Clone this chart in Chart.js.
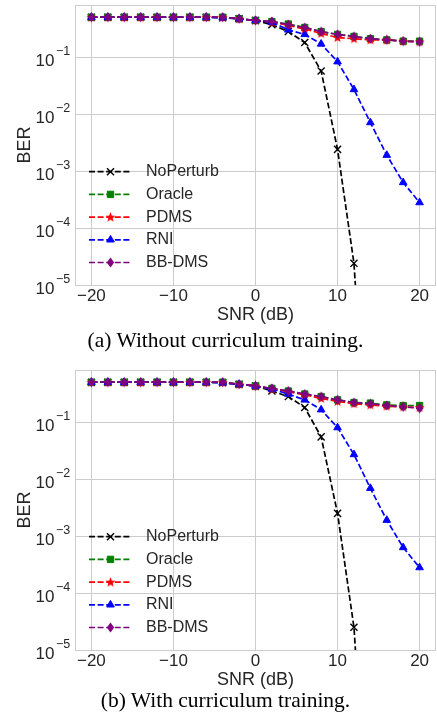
<!DOCTYPE html>
<html>
<head>
<meta charset="utf-8">
<script src="https://cdn.jsdelivr.net/npm/chart.js@4.4.0/dist/chart.umd.min.js"></script>
<style>
    body { margin: 0; background: #fff; width: 437px; height: 714px; overflow: hidden; position: relative; }
    canvas { position: absolute; left: 0; }
    .caption {
        position: absolute; left: 225.5px; transform: translateX(-50%); white-space: nowrap;
        font-family: "Liberation Serif", "Times New Roman", serif; font-size: 21.5px; line-height: 1; color: #000;
    }
</style>
</head>
<body>
<canvas id="chart-a" width="437" height="330" style="top:0px"></canvas>
<div class="caption" style="top:330px">(a) Without curriculum training.</div>
<canvas id="chart-b" width="437" height="330" style="top:365px"></canvas>
<div class="caption" style="top:689.5px">(b) With curriculum training.</div>
<script>
const snr = [-20, -18, -16, -14, -12, -10, -8, -6, -4, -2, 0, 2, 4, 6, 8, 10, 12, 14, 16, 18, 20];
const names = ['NoPerturb', 'Oracle', 'PDMS', 'RNI', 'BB-DMS'];
const xTicks = [-20, -10, 0, 10, 20];
const yTicks = [1e-5, 1e-4, 1e-3, 1e-2, 1e-1];

// (a) without curriculum training. NoPerturb reaches zero BER above 12 dB: 1e-9 puts it off the axis
const noPerturbA = [0.5, 0.5, 0.5, 0.5, 0.5, 0.5, 0.5, 0.5, 0.49, 0.47, 0.44, 0.37, 0.28, 0.18, 0.057, 0.0024, 0.000024, 1e-9, 1e-9, 1e-9, 1e-9];
const oracleA = [0.5, 0.5, 0.5, 0.5, 0.5, 0.5, 0.5, 0.5, 0.5, 0.47, 0.44, 0.42, 0.38, 0.33, 0.28, 0.25, 0.23, 0.21, 0.2, 0.19, 0.19];
const pdmsA = [0.5, 0.5, 0.5, 0.5, 0.5, 0.5, 0.5, 0.5, 0.5, 0.47, 0.44, 0.41, 0.36, 0.31, 0.26, 0.22, 0.21, 0.2, 0.2, 0.19, 0.185];
const rniA = [0.5, 0.5, 0.5, 0.5, 0.5, 0.5, 0.5, 0.5, 0.49, 0.47, 0.44, 0.41, 0.3, 0.25, 0.17, 0.083, 0.027, 0.0071, 0.0019, 0.00063, 0.00028];
const bbdmsA = [0.5, 0.5, 0.5, 0.5, 0.5, 0.5, 0.5, 0.5, 0.5, 0.47, 0.44, 0.42, 0.37, 0.33, 0.28, 0.25, 0.23, 0.21, 0.2, 0.19, 0.185];

// (b) with curriculum training
const noPerturbB = [0.5, 0.5, 0.5, 0.5, 0.5, 0.5, 0.5, 0.5, 0.49, 0.46, 0.43, 0.35, 0.28, 0.18, 0.055, 0.0025, 0.000025, 1e-9, 1e-9, 1e-9, 1e-9];
const oracleB = [0.5, 0.5, 0.5, 0.5, 0.5, 0.5, 0.5, 0.5, 0.5, 0.46, 0.43, 0.39, 0.35, 0.31, 0.28, 0.245, 0.22, 0.215, 0.2, 0.195, 0.195];
const pdmsB = [0.5, 0.5, 0.5, 0.5, 0.5, 0.5, 0.5, 0.5, 0.5, 0.46, 0.43, 0.38, 0.34, 0.3, 0.26, 0.23, 0.21, 0.2, 0.19, 0.185, 0.18];
const rniB = [0.5, 0.5, 0.5, 0.5, 0.5, 0.5, 0.5, 0.5, 0.49, 0.46, 0.43, 0.38, 0.31, 0.245, 0.165, 0.08, 0.027, 0.0069, 0.0019, 0.00063, 0.00028];
const bbdmsB = [0.5, 0.5, 0.5, 0.5, 0.5, 0.5, 0.5, 0.5, 0.5, 0.46, 0.43, 0.39, 0.35, 0.31, 0.28, 0.245, 0.22, 0.21, 0.195, 0.185, 0.175];

const colors = ['#000000', '#008000', '#ff0000', '#0000ff', '#800080'];
const textColor = '#262626';
const gridColor = '#cccccc';
const sans = '"Liberation Sans", Arial, sans-serif';
const dash = [6, 2.6];

// matplotlib-like filled markers that chart.js doesn't have
function starMarker(color) {
    const c = document.createElement('canvas');
    c.width = 11; c.height = 11;
    const g = c.getContext('2d');
    g.fillStyle = color;
    g.beginPath();
    for (let k = 0; k < 10; k++) {
        const r = k % 2 === 0 ? 5.2 : 2.3;
        const a = -Math.PI / 2 + k * Math.PI / 5;
        g.lineTo(5.5 + r * Math.cos(a), 5.8 + r * Math.sin(a));
    }
    g.closePath();
    g.fill();
    return c;
}

function thinDiamond(color) {
    const c = document.createElement('canvas');
    c.width = 9; c.height = 11;
    const g = c.getContext('2d');
    g.fillStyle = color;
    g.beginPath();
    g.moveTo(4.5, 0.6);
    g.lineTo(8.2, 5.5);
    g.lineTo(4.5, 10.4);
    g.lineTo(0.8, 5.5);
    g.closePath();
    g.fill();
    return c;
}

const pointStyles = ['crossRot', 'rect', starMarker(colors[2]), 'triangle', thinDiamond(colors[4])];
const pointSizes = [5, 4.5, 4.5, 4.4, 4.5];
const pointEdges = [1.4, 1, 1, 1, 1];

const framePlugin = {
    id: 'frame',
    beforeDatasetsDraw(chart) {
        const { ctx, chartArea: a } = chart;
        ctx.save();
        ctx.strokeStyle = gridColor;
        ctx.lineWidth = 1;
        ctx.strokeRect(Math.round(a.left) + 0.5, Math.round(a.top) + 0.5,
            Math.round(a.right - a.left) - 1, Math.round(a.bottom - a.top));
        ctx.restore();
    }
};

// y tick labels as 10 with a raised exponent
const powerLabels = {
    id: 'powerLabels',
    afterDraw(chart) {
        const { ctx } = chart;
        const scale = chart.scales.y;
        ctx.save();
        ctx.fillStyle = textColor;
        ctx.textBaseline = 'alphabetic';
        scale.ticks.forEach(t => {
            const y = scale.getPixelForValue(t.value);
            const exp = Math.round(Math.log10(t.value));
            ctx.font = '17px ' + sans;
            ctx.textAlign = 'right';
            ctx.fillText('10', 54.5, y + 9);
            ctx.font = '12.5px ' + sans;
            ctx.textAlign = 'left';
            ctx.fillText('\u2212' + Math.abs(exp), 56, y - 2);
        });
        ctx.restore();
    }
};

const legendPlugin = {
    id: 'bottomLeftLegend',
    afterDraw(chart) {
        const { ctx, chartArea: a } = chart;
        const x0 = a.left + 14, x1 = a.left + 57, tx = a.left + 71;
        ctx.save();
        chart.data.datasets.forEach((ds, i) => {
            const y = a.bottom - 113.3 + i * 22.7;
            ctx.strokeStyle = ds.borderColor;
            ctx.lineWidth = ds.borderWidth;
            ctx.setLineDash(ds.borderDash);
            ctx.beginPath();
            ctx.moveTo(x0, y);
            ctx.lineTo(x1, y);
            ctx.stroke();
            ctx.setLineDash([]);
            ctx.fillStyle = ds.pointBackgroundColor;
            ctx.strokeStyle = ds.pointBorderColor;
            ctx.lineWidth = ds.pointBorderWidth;
            Chart.helpers.drawPoint(ctx, { pointStyle: ds.pointStyle, radius: ds.pointRadius, rotation: 0, borderWidth: ds.pointBorderWidth }, (x0 + x1) / 2, y);
            ctx.fillStyle = textColor;
            ctx.font = '16px ' + sans;
            ctx.textAlign = 'left';
            ctx.textBaseline = 'middle';
            ctx.fillText(ds.label, tx, y);
        });
        ctx.restore();
    }
};

function makeChart(id, series) {
    const datasets = series.map((vals, i) => ({
        label: names[i],
        data: snr.map((s, k) => ({ x: s, y: vals[k] })),
        borderColor: colors[i],
        backgroundColor: colors[i],
        pointBackgroundColor: colors[i],
        pointBorderColor: colors[i],
        pointStyle: pointStyles[i],
        pointRadius: pointSizes[i],
        pointBorderWidth: pointEdges[i],
        borderWidth: 1.7,
        borderDash: dash,
        tension: 0,
        clip: 0,
        order: 4 - i
    }));

    return new Chart(document.getElementById(id), {
        type: 'line',
        data: { datasets },
        options: {
            responsive: false,
            animation: false,
            devicePixelRatio: 1,
            layout: { autoPadding: false, padding: { top: 5, right: 1, bottom: 0, left: 0 } },
            plugins: { legend: { display: false }, tooltip: { enabled: false } },
            scales: {
                x: {
                    type: 'linear',
                    min: -22,
                    max: 22,
                    bounds: 'data',
                    afterBuildTicks: s => { s.ticks = xTicks.map(v => ({ value: v })); },
                    afterFit: s => { s.height = 45; s.paddingLeft = 0; s.paddingRight = 0; },
                    grid: { color: gridColor, lineWidth: 1, drawTicks: false },
                    border: { display: false },
                    ticks: {
                        padding: 1,
                        color: textColor,
                        font: { family: sans, size: 17 },
                        maxRotation: 0,
                        callback: v => (v < 0 ? '\u2212' + Math.abs(v) : String(v))
                    },
                    title: { display: true, text: 'SNR (dB)', color: textColor, font: { family: sans, size: 18 }, padding: { top: 0, bottom: 4 } }
                },
                y: {
                    type: 'logarithmic',
                    min: 1e-5,
                    max: 0.82,
                    bounds: 'data',
                    afterBuildTicks: s => { s.ticks = yTicks.map(v => ({ value: v })); },
                    afterFit: s => { s.width = 75; s.paddingTop = 0; s.paddingBottom = 0; },
                    grid: { color: gridColor, lineWidth: 1, drawTicks: false },
                    border: { display: false },
                    ticks: { display: false },
                    title: { display: true, text: 'BER', color: textColor, font: { family: sans, size: 18 }, padding: { top: 14, bottom: 0 } }
                }
            }
        },
        plugins: [framePlugin, powerLabels, legendPlugin]
    });
}

makeChart('chart-a', [noPerturbA, oracleA, pdmsA, rniA, bbdmsA]);
makeChart('chart-b', [noPerturbB, oracleB, pdmsB, rniB, bbdmsB]);
</script>
</body>
</html>
